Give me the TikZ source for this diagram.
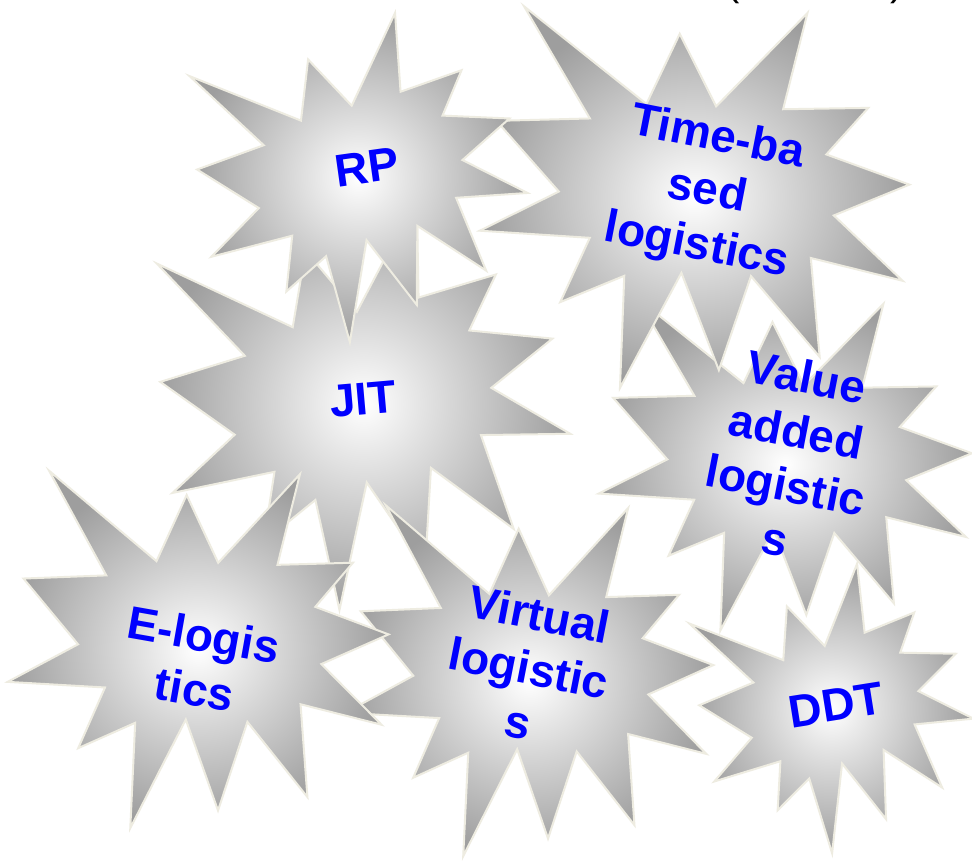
\documentclass[tikz,border=0pt]{standalone}
\usepackage{fontspec}
\usepackage{xcolor}
\setmainfont{Liberation Sans}
\definecolor{rim}{HTML}{EEECE1}

% one explosion outline, 216 x 216 units, centred on (#1,#2)
\newcommand{\burst}[5]{%
  \begin{scope}[shift={(#1,#2)},rotate=#3,xscale=#4,yscale=#5,shift={(-108,-108)}]
    \path[burst] (108,58) -- (145.22,0) -- (141.55,53.25) -- (183.80,44.57)
      -- (167.02,73.15) -- (210.97,81.37) -- (176.07,104.75) -- (216,132.90)
      -- (168.37,129.42) -- (181.45,180.95) -- (140.20,144.57) -- (132.47,197.37)
      -- (105.32,149.35) -- (84.85,216) -- (77.15,156.27) -- (47.62,176.17)
      -- (56.67,139.37) -- (1.35,145.87) -- (37.22,117.75) -- (0,86.15)
      -- (46.27,76.17) -- (3.70,22.95) -- (73.12,63.20) -- (83.52,22.95) -- cycle;
  \end{scope}}

\begin{document}
\begin{tikzpicture}[x=1pt,y=-1pt,
    burst/.style={draw=rim,line width=2pt,shading=radial,inner color=white,outer color=black!38},
    word/.style={text=blue,font=\fontsize{46}{55}\selectfont\bfseries,align=center,inner sep=0pt}]
    \useasboundingbox[fill=white] (0,0) rectangle (972,864);

    % the bursts, back to front
    \burst{790}{465}{-10}{1.72}{1.62}
    \burst{700}{198}{-10}{1.98}{1.86}
    \burst{365}{405}{5}{1.87}{1.87}
    \burst{362}{179}{8}{1.5}{1.48}
    \burst{534}{680}{-10}{1.69}{1.72}
    \burst{203}{649}{-10}{1.75}{1.75}
    \burst{836}{710}{10}{1.24}{1.30}

    % texts
    \node[word,rotate=-11] (value) at (791,458) {Value\\added\\logistic\\s};
    \node[word,rotate=-11] (timebased) at (707,193) {Time-ba\\sed\\logistics};
    \node[word,rotate=5] (jit) at (363,399) {JIT};
    \node[word,rotate=8] (rp) at (367,167) {RP};
    \node[word,rotate=-11] (virtual) at (529,668) {Virtual\\logistic\\s};
    \node[word,rotate=-10] (elog) at (199,662) {E-logis\\tics};
    \node[word,rotate=9] (ddt) at (836,705) {DDT};

    % cut-off heading
    \node[anchor=base,font=\fontsize{40}{48}\selectfont,inner sep=0pt] (head) at (815,-4) {(\hspace{150pt})};
\end{tikzpicture}
\end{document}
